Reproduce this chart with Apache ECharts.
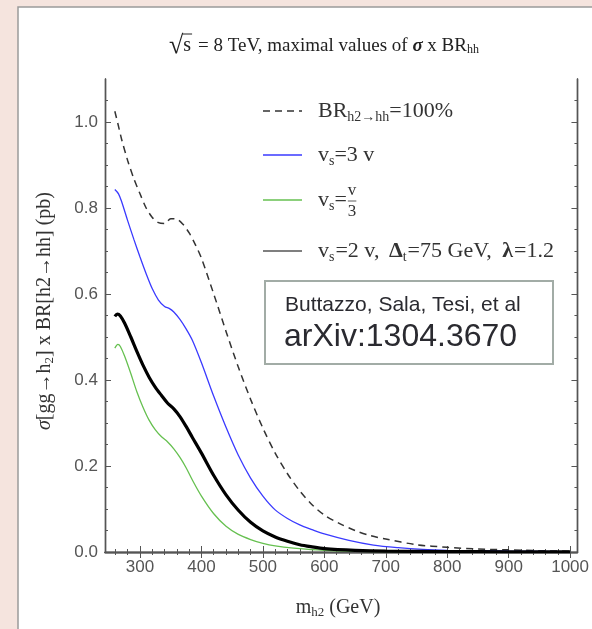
<!DOCTYPE html>
<html><head><meta charset="utf-8">
<script src="https://cdn.jsdelivr.net/npm/echarts@6/dist/echarts.min.js"></script>
<style>html,body{margin:0;padding:0;background:#f5e4de;}#c{width:592px;height:629px;}</style>
</head><body><div id="c"></div>
<script>
// ---- data ----
const mBR  = [259,265,270,280,290,300,310,320,330,340,350,360,370,380,390,400,420,440,460,480,500,520,540,560,580,600,625,650,675,700,750,800,850,900,950,1000];
const sBR  = [1.025,0.99,0.96,0.91,0.868,0.833,0.80,0.778,0.766,0.764,0.775,0.774,0.762,0.742,0.715,0.683,0.600,0.513,0.430,0.355,0.288,0.230,0.182,0.142,0.110,0.086,0.066,0.050,0.038,0.030,0.017,0.011,0.007,0.005,0.003,0.002];
const mV3  = [259,265,270,280,290,300,310,320,330,340,348,355,365,375,385,400,420,440,460,480,500,520,540,560,580,600,640,680,720,760,800,850,900,1000];
const sV3  = [0.843,0.833,0.815,0.770,0.727,0.686,0.647,0.612,0.586,0.571,0.566,0.558,0.541,0.519,0.493,0.440,0.362,0.290,0.225,0.172,0.130,0.098,0.078,0.063,0.052,0.042,0.027,0.016,0.010,0.006,0.004,0.003,0.002,0.001];
const mV13 = [259,264,268,275,285,295,305,315,325,335,345,355,365,375,385,400,420,440,460,480,500,520,550,600,700,800,1000];
const sV13 = [0.474,0.483,0.478,0.455,0.415,0.372,0.336,0.306,0.284,0.268,0.256,0.240,0.220,0.196,0.168,0.130,0.089,0.060,0.041,0.029,0.020,0.014,0.009,0.004,0.001,0.0005,0.0002];
const mV2  = [259,263,268,275,285,295,305,315,325,335,345,355,365,375,385,400,420,440,460,480,500,520,540,560,580,600,650,700,800,900,1000];
const sV2  = [0.548,0.553,0.549,0.532,0.500,0.466,0.434,0.406,0.383,0.364,0.346,0.333,0.315,0.292,0.267,0.230,0.178,0.133,0.097,0.069,0.049,0.035,0.025,0.017,0.012,0.008,0.004,0.002,0.001,0.0005,0.0003];
const xMajor = [300,400,500,600,700,800,900,1000];
const xMinor = [260,280,320,340,360,380,420,440,460,480,520,540,560,580,620,640,660,680,720,740,760,780,820,840,860,880,920,940,960,980,1000];
const yMajor = [0,0.2,0.4,0.6,0.8,1.0];
const yMinor = [0.05,0.1,0.15,0.25,0.3,0.35,0.45,0.5,0.55,0.65,0.7,0.75,0.85,0.9,0.95,1.05];
const seriesNames = ['BR h2→hh=100%','vs=3 v','vs=v/3','vs=2 v, Δt=75 GeV, λ=1.2'];

const SERIF = '"Liberation Serif","DejaVu Serif",serif';
const SANS = '"Liberation Sans",Arial,sans-serif';
const ctx = document.createElement('canvas').getContext('2d');
function fontStr(s){ return (s.style||'normal')+' '+(s.weight||'normal')+' '+s.size+'px '+(s.fam||SERIF); }
function tw(s){ ctx.font = fontStr(s); return ctx.measureText(s.t).width; }
function run(list, x0, y0, color){
  let x = x0; const out = [];
  list.forEach(s => {
    if (s.frac){
      const a = {t:s.frac[0], size:s.size}, b = {t:s.frac[1], size:s.size};
      const w = Math.max(tw(a), tw(b)) + 2;
      out.push({type:'text', x:x+w/2, y:y0-9, style:{text:a.t, font:fontStr(a), fill:color, align:'center', verticalAlign:'middle', textAlign:'center', textVerticalAlign:'middle'}});
      out.push({type:'text', x:x+w/2, y:y0+12, style:{text:b.t, font:fontStr(b), fill:color, align:'center', verticalAlign:'middle', textAlign:'center', textVerticalAlign:'middle'}});
      out.push({type:'line', shape:{x1:x+1, y1:y0+1, x2:x+w-1, y2:y0+1}, style:{stroke:color, lineWidth:0.8}});
      x += w; return;
    }
    const w = tw(s);
    out.push({type:'text', x:x, y:y0+(s.dy||0), style:{text:s.t, font:fontStr(s), fill:s.color||color, align:'left', verticalAlign:'middle', textAlign:'left', textVerticalAlign:'middle'}});
    if (s.over) out.push({type:'line', shape:{x1:x-1, y1:y0-12, x2:x+w+1, y2:y0-12}, style:{stroke:color, lineWidth:1}});
    x += w + (s.gap||0);
  });
  return {els: out, width: x - x0};
}
function runWidth(list){ return run(list,0,0,'#000').width; }

const chart = echarts.init(document.getElementById('c'), null, {renderer:'canvas'});
const pair = (m,s) => m.map((v,i)=>[v,s[i]]);
const AX = '#555';
function xAx(pos, vals, len, labels){
  return {type:'value', position:pos, min:243, max:1012,
    axisLine:{show:true, lineStyle:{color:AX, width:1.4}},
    axisTick:{show:true, inside:true, length:len, customValues:vals, lineStyle:{color:AX, width:1}},
    axisLabel:{show:!!labels, customValues:vals, color:'#555', fontFamily:SANS, fontSize:17, margin:7, formatter:v=>String(v)},
    splitLine:{show:false}};
}
function yAx(pos, vals, len, labels){
  return {type:'value', position:pos, min:0, max:1.1,
    axisLine:{show:true, lineStyle:{color:AX, width:1.4}},
    axisTick:{show:true, inside:true, length:len, customValues:vals, lineStyle:{color:AX, width:1}},
    axisLabel:{show:!!labels, customValues:vals, color:'#555', fontFamily:SANS, fontSize:17, margin:7, formatter:v=>v.toFixed(1)},
    splitLine:{show:false}};
}

const G = [];
G.push({type:'rect', shape:{x:18, y:7, width:600, height:640}, style:{fill:'#fff', stroke:'#9a9a9a', lineWidth:1.5}, z:-10});
// title
const titleSegs = [
  {t:'√', size:26}, {t:'s', size:20, over:true, gap:7}, {t:'= 8 TeV, maximal values of ', size:19},
  {t:'σ', size:19, style:'italic', weight:'bold'}, {t:' x BR', size:19}, {t:'hh', size:12, dy:4}
];
const tW = runWidth(titleSegs);
G.push(...run(titleSegs, 324 - tW/2, 46, '#222').els);
// y title (rotated)
const ySegs = [
  {t:'σ', size:20, style:'italic'}, {t:'[gg→h', size:20}, {t:'2', size:13, dy:5}, {t:'] x BR[h2→hh] (pb)', size:20}
];
const yW = runWidth(ySegs);
G.push({type:'group', x:45, y:311, rotation:Math.PI/2, children: run(ySegs, -yW/2, 0, '#333').els});
// x title
const xSegs = [{t:'m', size:20}, {t:'h2', size:13, dy:5}, {t:' (GeV)', size:20}];
const xW = runWidth(xSegs);
G.push(...run(xSegs, 338 - xW/2, 608, '#333').els);
// legend
const LX1 = 263, LX2 = 302, TX = 318, LS = 22, SS = 14;
const legendRows = [
  {y:111, line:{stroke:'#333', lineWidth:1.4, lineDash:[7,5]}, segs:[{t:'BR', size:LS},{t:'h2→hh', size:SS, dy:6},{t:'=100%', size:LS}]},
  {y:155, line:{stroke:'#3a3aff', lineWidth:1.4}, segs:[{t:'v', size:LS},{t:'s', size:SS, dy:6},{t:'=3 v', size:LS}]},
  {y:200, line:{stroke:'#66c050', lineWidth:1.4}, segs:[{t:'v', size:LS},{t:'s', size:SS, dy:6},{t:'=', size:LS},{frac:['v','3'], size:17}]},
  {y:251, line:{stroke:'#555', lineWidth:1.6}, segs:[{t:'v', size:LS},{t:'s', size:SS, dy:6, gap:1},{t:'=2 v, ', size:LS, gap:4},{t:'Δ', size:LS, weight:'bold'},{t:'t', size:SS, dy:6, gap:1},{t:'=75 GeV, ', size:LS, gap:5},{t:'λ', size:LS, weight:'bold', gap:1},{t:'=1.2', size:LS}]}
];
legendRows.forEach(r => {
  G.push({type:'line', shape:{x1:LX1, y1:r.y, x2:LX2, y2:r.y}, style:r.line});
  G.push(...run(r.segs, TX, r.y, '#333').els);
});
// citation box
G.push({type:'rect', shape:{x:265, y:281, width:288, height:83}, style:{fill:'#fff', stroke:'#a2aca6', lineWidth:2}, z:50});
G.push({type:'text', x:285, y:305, z:51, style:{text:'Buttazzo, Sala, Tesi, et al', font:'21px '+SANS, fill:'#2a2a30', align:'left', verticalAlign:'middle', textAlign:'left', textVerticalAlign:'middle'}});
G.push({type:'text', x:284, y:337, z:51, style:{text:'arXiv:1304.3670', font:'32px '+SANS, fill:'#2a2a30', align:'left', verticalAlign:'middle', textAlign:'left', textVerticalAlign:'middle'}});

chart.setOption({
  animation:false,
  backgroundColor:'#f5e4de',
  grid:{left:105, right:14, top:79, bottom:77, containLabel:false},
  xAxis:[xAx('bottom', xMajor, 6, true), xAx('bottom', xMinor, 3, false), xAx('top', xMajor, 6, false), xAx('top', xMinor, 3, false)],
  yAxis:[yAx('left', yMajor, 6, true), yAx('left', yMinor, 3, false), yAx('right', yMajor, 6, false), yAx('right', yMinor, 3, false)],
  series:[
    {name:seriesNames[0], type:'line', data:pair(mBR,sBR), smooth:0.3, showSymbol:false, lineStyle:{color:'#333', width:1.5, type:[7,5]}, z:3},
    {name:seriesNames[1], type:'line', data:pair(mV3,sV3), smooth:0.3, showSymbol:false, lineStyle:{color:'#3a3aff', width:1.3}, z:3},
    {name:seriesNames[2], type:'line', data:pair(mV13,sV13), smooth:0.3, showSymbol:false, lineStyle:{color:'#66c050', width:1.3}, z:3},
    {name:seriesNames[3], type:'line', data:pair(mV2,sV2), smooth:0.3, showSymbol:false, lineStyle:{color:'#000', width:3.2}, z:4}
  ],
  graphic: G
});
</script></body></html>
